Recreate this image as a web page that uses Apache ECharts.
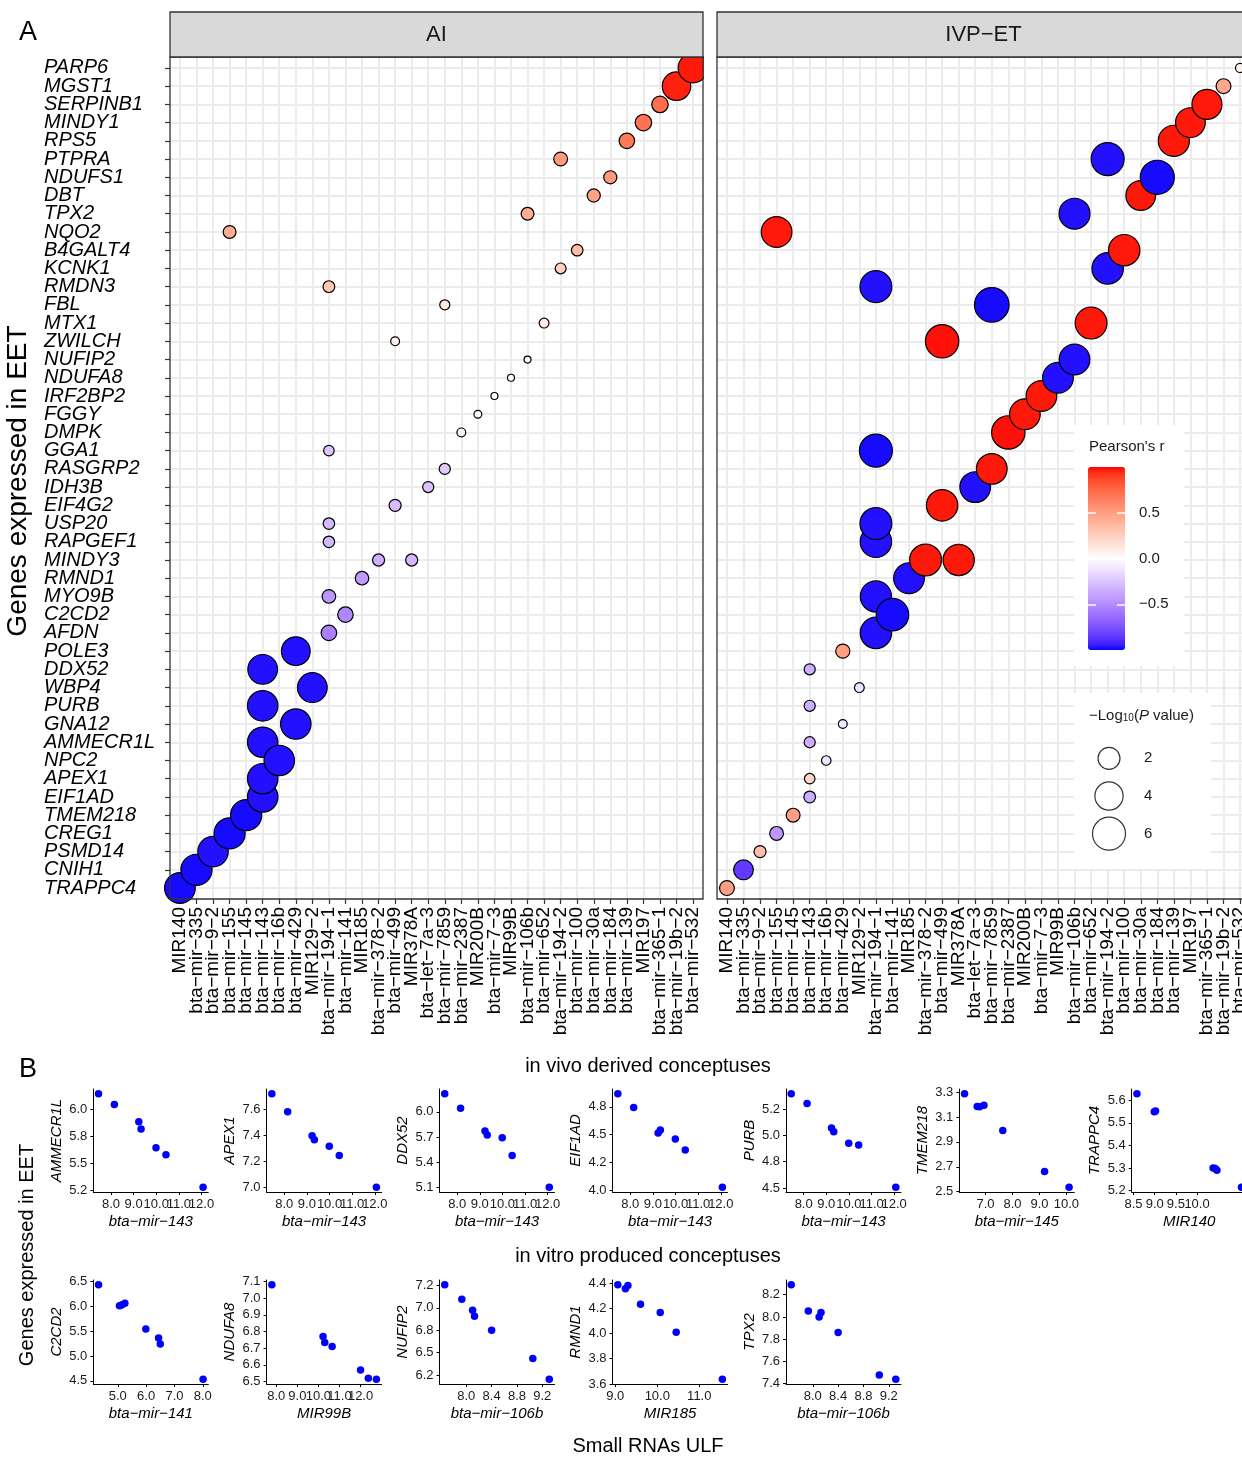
<!DOCTYPE html>
<html lang="en">
<head>
  <meta charset="UTF-8" />
  <title>Small RNA – gene correlations</title>
  <script src="https://cdn.jsdelivr.net/npm/echarts@6/dist/echarts.min.js"></script>
  <style>
    body { margin: 0; padding: 0; background: #fff; }
    #main { width: 1242px; height: 1457px; }
  </style>
</head>
<body>
  <div id="main"></div>
  <script>
    // ---- panel A: categories ----
    const genes = ['PARP6','MGST1','SERPINB1','MINDY1','RPS5','PTPRA','NDUFS1','DBT','TPX2','NQO2',
      'B4GALT4','KCNK1','RMDN3','FBL','MTX1','ZWILCH','NUFIP2','NDUFA8','IRF2BP2','FGGY','DMPK',
      'GGA1','RASGRP2','IDH3B','EIF4G2','USP20','RAPGEF1','MINDY3','RMND1','MYO9B','C2CD2','AFDN',
      'POLE3','DDX52','WBP4','PURB','GNA12','AMMECR1L','NPC2','APEX1','EIF1AD','TMEM218','CREG1',
      'PSMD14','CNIH1','TRAPPC4'];
    const mirnas = ['MIR140','bta-mir-335','bta-mir-9-2','bta-mir-155','bta-mir-145','bta-mir-143',
      'bta-mir-16b','bta-mir-429','MIR129-2','bta-mir-194-1','bta-mir-141','MIR185','bta-mir-378-2',
      'bta-mir-499','MIR378A','bta-let-7a-3','bta-mir-7859','bta-mir-2387','MIR200B','bta-mir-7-3',
      'MIR99B','bta-mir-106b','bta-mir-652','bta-mir-194-2','bta-mir-100','bta-mir-30a','bta-mir-184',
      'bta-mir-139','MIR197','bta-mir-365-1','bta-mir-19b-2','bta-mir-532'];

    // [gene, small RNA, Pearson's r, -log10(P)]
    const aiPoints = [
      ['PARP6','bta-mir-532',0.97,4.6], ['MGST1','bta-mir-19b-2',0.96,4.1],
      ['SERPINB1','bta-mir-365-1',0.72,0.8], ['MINDY1','MIR197',0.70,0.8],
      ['RPS5','bta-mir-139',0.67,0.64], ['PTPRA','bta-mir-194-2',0.52,0.41],
      ['NDUFS1','bta-mir-184',0.52,0.33], ['DBT','bta-mir-30a',0.48,0.33],
      ['TPX2','bta-mir-106b',0.43,0.3], ['NQO2','bta-mir-155',0.43,0.3],
      ['B4GALT4','bta-mir-100',0.35,0.18], ['KCNK1','bta-mir-194-2',0.25,0.13],
      ['RMDN3','bta-mir-194-1',0.3,0.2], ['FBL','bta-mir-7859',0.12,0.085],
      ['MTX1','bta-mir-652',0.1,0.07], ['ZWILCH','bta-mir-499',0.08,0.03],
      ['NUFIP2','bta-mir-106b',0.02,0], ['NDUFA8','MIR99B',0.0,0],
      ['IRF2BP2','bta-mir-7-3',-0.01,0], ['FGGY','MIR200B',-0.03,0.006],
      ['DMPK','bta-mir-2387',-0.06,0.03], ['GGA1','bta-mir-194-1',-0.25,0.11],
      ['RASGRP2','bta-mir-7859',-0.23,0.15], ['IDH3B','bta-let-7a-3',-0.26,0.15],
      ['EIF4G2','bta-mir-499',-0.28,0.23], ['USP20','bta-mir-194-1',-0.3,0.18],
      ['RAPGEF1','bta-mir-194-1',-0.31,0.18], ['MINDY3','bta-mir-378-2',-0.34,0.23],
      ['MINDY3','MIR378A',-0.31,0.23], ['RMND1','MIR185',-0.43,0.38],
      ['MYO9B','bta-mir-194-1',-0.45,0.38], ['C2CD2','bta-mir-141',-0.52,0.64],
      ['AFDN','bta-mir-194-1',-0.55,0.64], ['POLE3','bta-mir-429',-0.97,4.2],
      ['DDX52','bta-mir-143',-0.97,4.6], ['WBP4','MIR129-2',-0.97,4.6],
      ['PURB','bta-mir-143',-0.97,4.9], ['GNA12','bta-mir-429',-0.97,4.9],
      ['AMMECR1L','bta-mir-143',-0.97,4.9], ['NPC2','bta-mir-16b',-0.97,4.9],
      ['APEX1','bta-mir-143',-0.97,4.9], ['EIF1AD','bta-mir-143',-0.97,4.9],
      ['TMEM218','bta-mir-145',-0.98,5.2], ['CREG1','bta-mir-155',-0.98,5.2],
      ['PSMD14','bta-mir-9-2',-0.97,4.9], ['CNIH1','bta-mir-335',-0.98,5.2],
      ['TRAPPC4','MIR140',-0.98,5.0]
    ];
    const ivpPoints = [
      ['PARP6','bta-mir-532',0.08,0.04], ['MGST1','bta-mir-19b-2',0.45,0.55],
      ['SERPINB1','bta-mir-365-1',0.97,4.7], ['MINDY1','MIR197',0.97,4.6],
      ['RPS5','bta-mir-139',0.97,5.2], ['PTPRA','bta-mir-194-2',-0.97,6.0],
      ['NDUFS1','bta-mir-184',-0.98,6.5], ['DBT','bta-mir-30a',0.97,4.6],
      ['TPX2','bta-mir-106b',-0.97,5.1], ['NQO2','bta-mir-155',0.97,5.0],
      ['B4GALT4','bta-mir-100',0.97,5.3], ['KCNK1','bta-mir-194-2',-0.97,5.3],
      ['RMDN3','bta-mir-194-1',-0.97,5.5], ['FBL','bta-mir-7859',-0.98,6.8],
      ['MTX1','bta-mir-652',0.97,5.5], ['ZWILCH','bta-mir-499',0.98,6.2],
      ['NUFIP2','bta-mir-106b',-0.97,5.0], ['NDUFA8','MIR99B',-0.97,5.0],
      ['IRF2BP2','bta-mir-7-3',0.97,5.0], ['FGGY','MIR200B',0.97,5.0],
      ['DMPK','bta-mir-2387',0.98,6.2], ['GGA1','bta-mir-194-1',-0.98,6.0],
      ['RASGRP2','bta-mir-7859',0.97,5.0], ['IDH3B','bta-let-7a-3',-0.97,5.0],
      ['EIF4G2','bta-mir-499',0.97,5.3], ['USP20','bta-mir-194-1',-0.97,5.5],
      ['RAPGEF1','bta-mir-194-1',-0.97,5.3], ['MINDY3','bta-mir-378-2',0.97,5.5],
      ['MINDY3','MIR378A',0.97,5.2], ['RMND1','MIR185',-0.97,5.0],
      ['MYO9B','bta-mir-194-1',-0.97,5.2], ['C2CD2','bta-mir-141',-0.98,5.8],
      ['AFDN','bta-mir-194-1',-0.97,5.3], ['POLE3','bta-mir-429',0.5,0.45],
      ['DDX52','bta-mir-143',-0.35,0.15], ['WBP4','MIR129-2',-0.12,0.07],
      ['PURB','bta-mir-143',-0.35,0.15], ['GNA12','bta-mir-429',-0.1,0.03],
      ['AMMECR1L','bta-mir-143',-0.35,0.15], ['NPC2','bta-mir-16b',-0.12,0.056],
      ['APEX1','bta-mir-143',0.22,0.11], ['EIF1AD','bta-mir-143',-0.35,0.2],
      ['TMEM218','bta-mir-145',0.5,0.41], ['CREG1','bta-mir-155',-0.45,0.41],
      ['PSMD14','bta-mir-9-2',0.35,0.23], ['CNIH1','bta-mir-335',-0.85,1.45],
      ['TRAPPC4','MIR140',0.5,0.55]
    ];
    const sizeBreaks = [2, 4, 6];
    const colorTicks = [-0.5, 0, 0.5];

    // ---- panel B: expression values ----
    const mir143 = [7.45, 8.15, 9.23, 9.33, 9.99, 10.43, 12.07];
    const mir145 = [6.22, 6.69, 6.78, 6.94, 7.64, 9.19, 10.10];
    const mir140 = [8.58, 8.99, 9.02, 10.38, 10.43, 10.47, 11.05];
    const mir141 = [4.32, 5.06, 5.15, 5.25, 5.99, 6.44, 6.50, 8.01];
    const mir99b = [7.79, 10.22, 10.30, 10.65, 12.00, 12.37, 12.75];
    const mir106b = [7.66, 7.93, 8.10, 8.13, 8.40, 9.05, 9.31];
    const mir185 = [9.06, 9.24, 9.30, 9.60, 10.07, 10.45, 11.55];

    const ammecr1l = [6.147, 6.046, 5.886, 5.820, 5.646, 5.582, 5.280];
    const apex1 = [7.722, 7.582, 7.398, 7.367, 7.317, 7.245, 7.000];
    const ddx52 = [6.216, 6.043, 5.772, 5.725, 5.693, 5.481, 5.103];
    const eif1ad = [4.869, 4.744, 4.515, 4.542, 4.461, 4.363, 4.027];
    const purb = [5.398, 5.304, 5.070, 5.035, 4.925, 4.909, 4.506];
    const tmem218 = [3.287, 3.184, 3.182, 3.195, 2.992, 2.663, 2.535];
    const trappc4 = [5.629, 5.549, 5.552, 5.300, 5.298, 5.291, 5.215];
    const c2cd2 = [6.433, 6.010, 6.030, 6.060, 5.540, 5.360, 5.240, 4.530];
    const ndufa8 = [7.080, 6.770, 6.734, 6.710, 6.570, 6.520, 6.514];
    const nufip2 = [7.257, 7.094, 6.972, 6.906, 6.750, 6.435, 6.202];
    const rmnd1 = [4.387, 4.355, 4.381, 4.233, 4.167, 4.011, 3.637];
    const tpx2 = [8.290, 8.054, 8.000, 8.039, 7.860, 7.478, 7.439];

    // tick values and labels as printed
    const mir143Ticks = [8, 9, 10, 11, 12];
    const mir145Ticks = [7, 8, 9, 10];
    const mir140Ticks = [8.5, 9, 9.5, 10];
    const mir141Ticks = [5, 6, 7, 8];
    const mir99bTicks = [8, 9, 10, 11, 12];
    const mir106bTicks = [8.0, 8.4, 8.8, 9.2];
    const mir185Ticks = [9, 10, 11];
    const ammecr1lTicks = [5.25, 5.5, 5.75, 6.0], ammecr1lLabels = ['5.2','5.5','5.8','6.0'];
    const apex1Ticks = [7.0, 7.2, 7.4, 7.6];
    const ddx52Ticks = [5.1, 5.4, 5.7, 6.0];
    const eif1adTicks = [4.0, 4.25, 4.5, 4.75], eif1adLabels = ['4.0','4.2','4.5','4.8'];
    const purbTicks = [4.5, 4.75, 5.0, 5.25], purbLabels = ['4.5','4.8','5.0','5.2'];
    const tmem218Ticks = [2.5, 2.7, 2.9, 3.1, 3.3];
    const trappc4Ticks = [5.2, 5.3, 5.4, 5.5, 5.6];
    const c2cd2Ticks = [4.5, 5.0, 5.5, 6.0, 6.5];
    const ndufa8Ticks = [6.5, 6.6, 6.7, 6.8, 6.9, 7.0, 7.1];
    const nufip2Ticks = [6.25, 6.5, 6.75, 7.0, 7.25], nufip2Labels = ['6.2','6.5','6.8','7.0','7.2'];
    const rmnd1Ticks = [3.6, 3.8, 4.0, 4.2, 4.4];
    const tpx2Ticks = [7.4, 7.6, 7.8, 8.0, 8.2];

    // ---- helpers ----
    const FONT = "'Liberation Sans', Arial, Helvetica, sans-serif";
    const dash = s => s.replace(/-/g, '\u2212');
    const bubbleSize = v => 7 + 10.6 * Math.sqrt(v);
    const evens = a => a.filter((_, i) => i % 2 === 0);
    const odds = a => a.filter((_, i) => i % 2 === 1);

    // blue-white-red, interpolated in Lab like ggplot's gradient2
    function toLab(hex) {
      const c = [1, 3, 5].map(i => parseInt(hex.substr(i, 2), 16) / 255)
        .map(v => v <= 0.04045 ? v / 12.92 : Math.pow((v + 0.055) / 1.055, 2.4));
      const X = (0.4124564 * c[0] + 0.3575761 * c[1] + 0.1804375 * c[2]) / 0.95047;
      const Y = 0.2126729 * c[0] + 0.7151522 * c[1] + 0.0721750 * c[2];
      const Z = (0.0193339 * c[0] + 0.1191920 * c[1] + 0.9503041 * c[2]) / 1.08883;
      const f = t => t > 0.008856 ? Math.cbrt(t) : 7.787 * t + 16 / 116;
      return [116 * f(Y) - 16, 500 * (f(X) - f(Y)), 200 * (f(Y) - f(Z))];
    }
    function fromLab(L, a, b) {
      const fy = (L + 16) / 116, fx = fy + a / 500, fz = fy - b / 200;
      const inv = t => t * t * t > 0.008856 ? t * t * t : (t - 16 / 116) / 7.787;
      const X = 0.95047 * inv(fx), Y = inv(fy), Z = 1.08883 * inv(fz);
      const lin = [3.2404542 * X - 1.5371385 * Y - 0.4985314 * Z,
                   -0.9692660 * X + 1.8760108 * Y + 0.0415560 * Z,
                   0.0556434 * X - 0.2040259 * Y + 1.0572252 * Z];
      return '#' + lin.map(v => {
        v = v <= 0.0031308 ? 12.92 * v : 1.055 * Math.pow(v, 1 / 2.4) - 0.055;
        return Math.round(Math.max(0, Math.min(1, v)) * 255).toString(16).padStart(2, '0');
      }).join('');
    }
    const labWhite = toLab('#ffffff'), labBlue = toLab('#0000ff'), labRed = toLab('#ff0000');
    const rampStops = [];
    for (let k = 0; k <= 40; k++) {
      const t = -1 + k / 20;
      const end = t < 0 ? labBlue : labRed, w = Math.abs(t);
      rampStops.push(fromLab(...labWhite.map((v, i) => v + (end[i] - v) * w)));
    }

    function bubbleData(points) {
      return points
        .map(p => [mirnas.indexOf(p[1]), genes.indexOf(p[0]), p[2], p[3]])
        .sort((a, b) => a[0] - b[0] || b[1] - a[1]);
    }

    const geneIdx = genes.map((_, i) => i);
    const mirIdx = mirnas.map((_, i) => i);
    const gridLine = { show: true, lineStyle: { color: '#EBEBEB', width: 2 } };
    const noLine = { show: false, onZero: false };
    const xLabelStyle = { rotate: 90, margin: 8, fontSize: 19, color: '#000', fontFamily: FONT,
      hideOverlap: false, formatter: v => dash(mirnas[Math.round(v)]) };
    const yLabelStyle = { align: 'left', margin: 126, fontSize: 20, fontStyle: 'italic', color: '#000',
      fontFamily: FONT, hideOverlap: false, formatter: v => genes[Math.round(v)] };

    // labels are split over two stacked axes (even / odd) so none of them gets dropped
    function panelX(gridIndex, labels, withTicks) {
      return {
        type: 'value', gridIndex, position: 'bottom', min: -0.6, max: mirnas.length - 0.4,
        axisLine: noLine,
        axisTick: withTicks ? { show: true, customValues: mirIdx, length: 5, lineStyle: { color: '#333', width: 1.2 } } : { show: false },
        axisLabel: Object.assign({ customValues: labels }, xLabelStyle),
        splitLine: withTicks ? gridLine : { show: false }
      };
    }
    function panelY(gridIndex, labels, withTicks, showLabels) {
      return {
        type: 'value', gridIndex, position: 'left', inverse: true, min: -0.6, max: genes.length - 0.4,
        axisLine: noLine,
        axisTick: withTicks ? { show: showLabels, customValues: geneIdx, length: 5, lineStyle: { color: '#333', width: 1.2 } } : { show: false },
        axisLabel: Object.assign({ show: showLabels, customValues: labels }, yLabelStyle),
        splitLine: withTicks ? gridLine : { show: false }
      };
    }

    // ---- panel B definitions (built from the arrays above) ----
    const miniPlots = [
      ['AMMECR1L', 'bta-mir-143', mir143, ammecr1l, mir143Ticks, ammecr1lTicks, ammecr1lLabels],
      ['APEX1', 'bta-mir-143', mir143, apex1, mir143Ticks, apex1Ticks, null],
      ['DDX52', 'bta-mir-143', mir143, ddx52, mir143Ticks, ddx52Ticks, null],
      ['EIF1AD', 'bta-mir-143', mir143, eif1ad, mir143Ticks, eif1adTicks, eif1adLabels],
      ['PURB', 'bta-mir-143', mir143, purb, mir143Ticks, purbTicks, purbLabels],
      ['TMEM218', 'bta-mir-145', mir145, tmem218, mir145Ticks, tmem218Ticks, null],
      ['TRAPPC4', 'MIR140', mir140, trappc4, mir140Ticks, trappc4Ticks, null],
      ['C2CD2', 'bta-mir-141', mir141, c2cd2, mir141Ticks, c2cd2Ticks, null],
      ['NDUFA8', 'MIR99B', mir99b, ndufa8, mir99bTicks, ndufa8Ticks, null],
      ['NUFIP2', 'bta-mir-106b', mir106b, nufip2, mir106bTicks, nufip2Ticks, nufip2Labels],
      ['RMND1', 'MIR185', mir185, rmnd1, mir185Ticks, rmnd1Ticks, null],
      ['TPX2', 'bta-mir-106b', mir106b, tpx2, mir106bTicks, tpx2Ticks, null]
    ];
    const colLeft = [93.3, 266.6, 439.5, 612.6, 786, 959.3, 1131.7];

    const tickFmt = (ticks, labels) => v => {
      const i = ticks.findIndex(t => Math.abs(t - v) < 1e-6);
      return labels && i >= 0 ? labels[i] : v.toFixed(1);
    };
    // ggplot-style 5% expansion of the data range
    const lims = a => {
      const lo = Math.min(...a), hi = Math.max(...a), d = 0.05 * (hi - lo);
      return [lo - d, hi + d];
    };

    const grids = [
      { left: 170, top: 57, width: 533, height: 842 },
      { left: 717, top: 57, width: 533, height: 842 },
      { left: 1088, top: 467, width: 37, height: 183 },
      { left: 1094, top: 739.5, width: 30, height: 113 }
    ];
    const xAxes = [
      panelX(0, evens(mirIdx), true), panelX(1, evens(mirIdx), true),
      { type: 'value', gridIndex: 2, show: false, min: 0, max: 1, axisLine: noLine },
      { type: 'value', gridIndex: 3, show: false, min: 0, max: 1, axisLine: noLine }
    ];
    const yAxes = [
      panelY(0, evens(geneIdx), true, true), panelY(1, evens(geneIdx), true, false),
      {
        type: 'value', gridIndex: 2, min: -1, max: 1, position: 'right', z: 10,
        axisLine: noLine, splitLine: { show: false },
        axisTick: { show: true, inside: true, length: 8, customValues: colorTicks, lineStyle: { color: '#fff', width: 1.5 } },
        axisLabel: { customValues: colorTicks, margin: 14, fontSize: 15, color: '#1a1a1a', fontFamily: FONT,
          formatter: v => dash(v.toFixed(1)) }
      },
      {
        type: 'category', gridIndex: 3, inverse: true, position: 'right', z: 10, data: sizeBreaks.map(String),
        axisLine: noLine, axisTick: { show: false }, splitLine: { show: false },
        axisLabel: { margin: 20, fontSize: 15, color: '#1a1a1a', fontFamily: FONT }
      }
    ];
    const series = [
      { type: 'scatter', xAxisIndex: 0, yAxisIndex: 0, data: bubbleData(aiPoints),
        symbolSize: d => bubbleSize(d[3]), itemStyle: { borderColor: '#000', borderWidth: 1.2, opacity: 1 }, z: 2 },
      { type: 'scatter', xAxisIndex: 1, yAxisIndex: 1, data: bubbleData(ivpPoints),
        symbolSize: d => bubbleSize(d[3]), itemStyle: { borderColor: '#000', borderWidth: 1.2, opacity: 1 }, z: 2 },
      { type: 'scatter', xAxisIndex: 3, yAxisIndex: 3, silent: true,
        data: sizeBreaks.map((v, i) => [0.5, i, v]), symbolSize: d => bubbleSize(d[2]),
        itemStyle: { color: '#fff', borderColor: '#000', borderWidth: 1.2 }, z: 3 }
    ];
    // second label layer of panel A
    xAxes.push(panelX(0, odds(mirIdx), false), panelX(1, odds(mirIdx), false));
    yAxes.push(panelY(0, odds(geneIdx), false, true));
    // colour bar: left-side white ticks
    yAxes.push({
      type: 'value', gridIndex: 2, min: -1, max: 1, position: 'left', z: 10,
      axisLine: noLine, splitLine: { show: false }, axisLabel: { show: false },
      axisTick: { show: true, inside: true, length: 8, customValues: colorTicks, lineStyle: { color: '#fff', width: 1.5 } }
    });

    miniPlots.forEach((p, k) => {
      const row = k < 7 ? 0 : 1, col = row ? k - 7 : k;
      const g = grids.length;
      grids.push({ left: colLeft[col], top: row ? 1280 : 1089, width: 115, height: row ? 104 : 103 });
      const [xMin, xMax] = lims(p[2]);
      const [yMin, yMax] = lims(p[3]);
      const nameStyle = { fontStyle: 'italic', fontSize: 15, color: '#000', fontFamily: FONT };
      const labelCommon = { margin: 6, fontSize: 13, color: '#1a1a1a', fontFamily: FONT, hideOverlap: false };
      const xBase = { gridIndex: g, type: 'value', position: 'bottom', min: xMin, max: xMax, splitLine: { show: false } };
      const xi = xAxes.length;
      xAxes.push(Object.assign({}, xBase, {
        axisLine: { show: true, onZero: false, lineStyle: { color: '#000', width: 1 } },
        name: dash(p[1]), nameGap: 22, nameLocation: 'middle', nameTextStyle: nameStyle,
        axisTick: { customValues: p[4], length: 3, lineStyle: { color: '#000' } },
        axisLabel: Object.assign({ customValues: evens(p[4]), formatter: tickFmt(p[4], null) }, labelCommon)
      }));
      xAxes.push(Object.assign({}, xBase, {
        axisLine: noLine, axisTick: { show: false },
        axisLabel: Object.assign({ customValues: odds(p[4]), formatter: tickFmt(p[4], null) }, labelCommon)
      }));
      const yi = yAxes.length;
      yAxes.push({
        gridIndex: g, type: 'value', min: yMin, max: yMax, splitLine: { show: false },
        axisLine: { show: true, onZero: false, lineStyle: { color: '#000', width: 1 } },
        name: p[0], nameGap: 29, nameLocation: 'middle', nameTextStyle: nameStyle,
        axisTick: { customValues: p[5], length: 3, lineStyle: { color: '#000' } },
        axisLabel: Object.assign({ customValues: p[5], formatter: tickFmt(p[5], p[6]) }, labelCommon)
      });
      series.push({
        type: 'scatter', xAxisIndex: xi, yAxisIndex: yi,
        data: p[2].map((x, i) => [x, p[3][i]]), symbolSize: 7.5,
        itemStyle: { color: '#0000FF', opacity: 1 }
      });
    });
    grids.forEach(g => { g.containLabel = false; g.outerBoundsMode = 'none'; });

    const txt = (x, y, text, size, extra) => Object.assign({
      type: 'text', x, y, z: 20, silent: true,
      style: Object.assign({ text, font: size + 'px ' + FONT, fill: '#000',
        align: 'center', verticalAlign: 'middle', textAlign: 'center', textVerticalAlign: 'middle' }, extra || {})
    });
    const graphics = [
      { type: 'rect', z: 1, silent: true, shape: { x: 1074, y: 425, width: 110, height: 241 }, style: { fill: '#fff' } },
      { type: 'rect', z: 1, silent: true, shape: { x: 1074, y: 693, width: 137, height: 176 }, style: { fill: '#fff' } },
      { type: 'rect', z: 9, silent: true, shape: { x: 704, y: 10, width: 12, height: 889 }, style: { fill: '#fff' } },
      { type: 'rect', z: 10, silent: true, shape: { x: 170, y: 57, width: 533, height: 842 }, style: { fill: null, stroke: '#333', lineWidth: 1.3 } },
      { type: 'rect', z: 10, silent: true, shape: { x: 717, y: 57, width: 533, height: 842 }, style: { fill: null, stroke: '#333', lineWidth: 1.3 } },
      { type: 'rect', z: 10, silent: true, shape: { x: 170, y: 12, width: 533, height: 45 }, style: { fill: '#D9D9D9', stroke: '#333', lineWidth: 1.3 } },
      { type: 'rect', z: 10, silent: true, shape: { x: 717, y: 12, width: 533, height: 45 }, style: { fill: '#D9D9D9', stroke: '#333', lineWidth: 1.3 } },
      txt(436.5, 35, 'AI', 22, { fill: '#1a1a1a' }),
      txt(983.5, 35, dash('IVP-ET'), 22, { fill: '#1a1a1a' }),
      txt(28, 33, 'A', 27),
      txt(28, 1070, 'B', 27),
      Object.assign(txt(18, 481, 'Genes expressed in EET', 28), { rotation: Math.PI / 2 }),
      Object.assign(txt(27, 1255, 'Genes expressed in EET', 20), { rotation: Math.PI / 2 }),
      txt(648, 1066, 'in vivo derived conceptuses', 20),
      txt(648, 1256, 'in vitro produced conceptuses', 20),
      txt(648, 1446, 'Small RNAs ULF', 20),
      txt(1089, 447, "Pearson's r", 15, { align: 'left', textAlign: 'left', fill: '#1a1a1a' }),
      txt(1089, 716, '\u2212Log{s|10}({i|P} value)', 15, {
        align: 'left', textAlign: 'left', fill: '#1a1a1a',
        rich: {
          s: { fontSize: 10, lineHeight: 10, verticalAlign: 'bottom', fontFamily: FONT, fill: '#1a1a1a' },
          i: { fontSize: 15, fontStyle: 'italic', fontFamily: FONT, fill: '#1a1a1a' }
        }
      })
    ];

    const chart = echarts.init(document.getElementById('main'));
    chart.setOption({
      animation: false,
      backgroundColor: '#fff',
      textStyle: { fontFamily: FONT },
      grid: grids,
      xAxis: xAxes,
      yAxis: yAxes,
      visualMap: {
        type: 'continuous', min: -1, max: 1, dimension: 2, seriesIndex: [0, 1],
        calculable: false, left: 1088, top: 467, itemWidth: 37, itemHeight: 183,
        padding: 0, inRange: { color: rampStops }, z: 4
      },
      series,
      graphic: graphics
    });
  </script>
</body>
</html>
